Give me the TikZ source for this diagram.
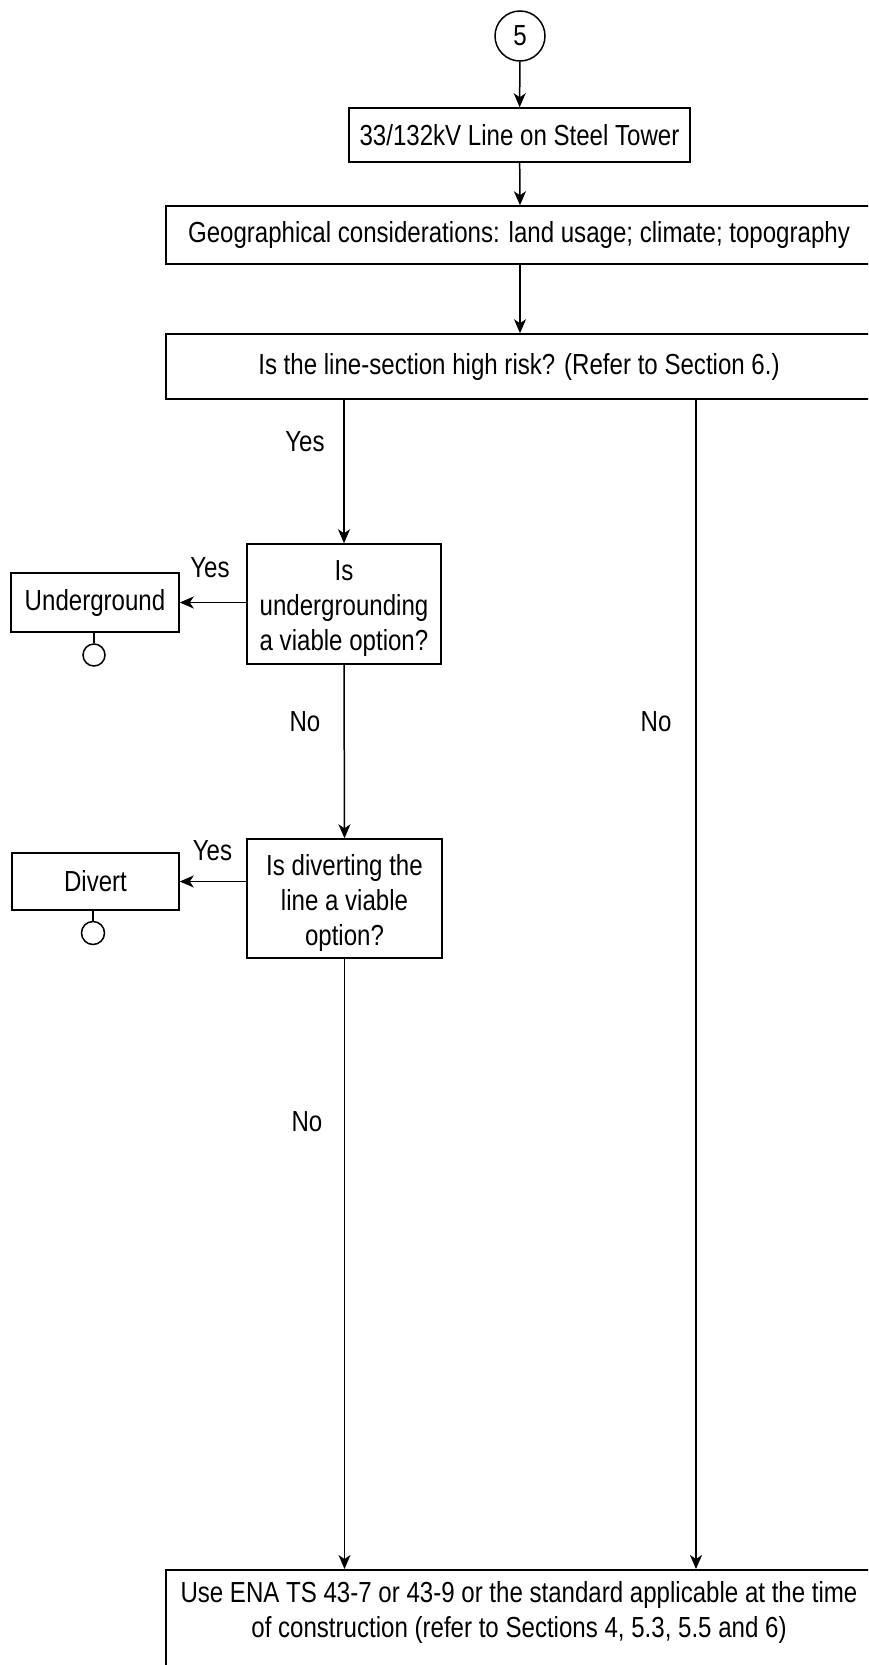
\documentclass[tikz,border=0pt]{standalone}
\usepackage{fontspec}
\setmainfont{Liberation Sans}[FakeStretch=0.83]
\usetikzlibrary{arrows.meta}
\tikzset{
  box/.style={draw, line width=1.5pt, rectangle, inner sep=0pt, align=center, font=\fontsize{29}{34}\selectfont},
  endc/.style={draw, line width=1.5pt, circle, inner sep=0pt},
  lbl/.style={inner sep=0pt, font=\fontsize{29}{35}\selectfont},
  arr/.style={line width=1.5pt, -{Stealth[length=14pt,width=12pt,inset=4pt]}},
  ln/.style={line width=1.5pt}
}
\begin{document}
\begin{tikzpicture}[x=1pt,y=-1pt]
\useasboundingbox (0,0) rectangle (868,1665);
\clip (0,0) rectangle (868,1665);
\node[endc, minimum size=50pt, font=\fontsize{29}{34}\selectfont] (c5) at (520,36) {5};
\node[box, minimum width=341pt, minimum height=54pt] (b1) at (519.5,135) {33/132kV Line on Steel Tower};
\node[box, minimum width=706pt, minimum height=58pt] (geo) at (519,235) {Geographical considerations: land usage; climate; topography};
\node[box, minimum width=706pt, minimum height=65pt] (risk) at (519,366.5) {Is the line-section high risk? (Refer to Section 6.)};
\node[box, minimum width=194pt, minimum height=120pt] (q1) at (344,604) {};
\node[lbl, align=center] (q1t) at (344,609) {Is\\undergrounding\\a viable option?};
\node[box, minimum width=168pt, minimum height=59pt] (under) at (95,602.5) {Underground};
\node[endc, minimum size=22pt] (uc) at (94,655) {};
\node[box, minimum width=195pt, minimum height=119pt] (q2) at (344.5,898.5) {};
\node[lbl, align=center] (q2t) at (344.5,903) {Is diverting the\\line a viable\\option?};
\node[box, minimum width=167pt, minimum height=57pt] (div) at (95.5,881.5) {Divert};
\node[endc, minimum size=23pt] (dc) at (93,933) {};
\node[box, minimum width=706pt, minimum height=150pt, anchor=north] (bot) at (519,1569) {};
\node[lbl, align=center] (bottxt) at (519,1612) {Use ENA TS 43-7 or 43-9 or the standard applicable at the time\\of construction (refer to Sections 4, 5.3, 5.5 and 6)};
\coordinate (rx) at (696,0);
\coordinate (mx) at (520,0);
% connectors
\draw[arr] (c5) -- (b1);
\draw[arr] (b1) -- (mx |- geo.north);
\draw[arr] (mx |- geo.south) -- (mx |- risk.north);
\draw[arr] (q1.north |- risk.south) -- (q1.north);
\draw[arr] (rx |- risk.south) -- (rx |- bot.north);
\draw[arr] (q1.west |- under.east) -- (under.east);
\draw[arr] (q1.south) -- (q2.north);
\draw[arr] (q2.west |- div.east) -- (div.east);
\draw[arr] (q2.south) -- (q2.south |- bot.north);
\draw[ln] (under.south -| uc) -- (uc.north);
\draw[ln] (div.south -| dc) -- (dc.north);
% labels
\node[lbl] (y1) at (305,442) {Yes};
\node[lbl] (n1) at (305,722) {No};
\node[lbl] (n2) at (656,722) {No};
\node[lbl] (n3) at (307,1122) {No};
\node[lbl] (y2) at (210,568) {Yes};
\node[lbl] (y3) at (212.5,851) {Yes};
\end{tikzpicture}
\end{document}
